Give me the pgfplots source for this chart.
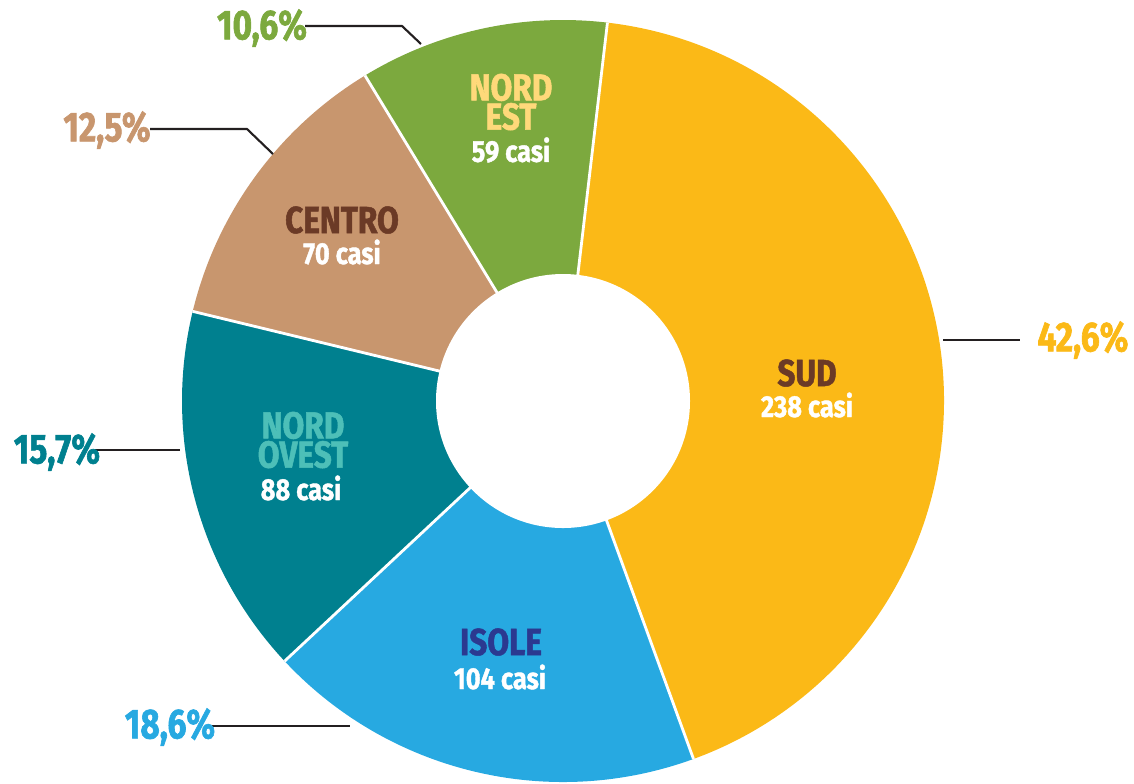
\documentclass[border=0pt]{standalone}
\usepackage{pgfplots}
\pgfplotsset{compat=1.18}
\usepackage{pgfplotstable}
\usepackage{fontspec}
\newfontfamily\cond{Fira Sans}[FakeStretch=0.84, BoldFeatures={FakeBold=1.3}]
\newfontfamily\condp{Fira Sans}[FakeStretch=0.8, BoldFeatures={FakeBold=1.5}]
\definecolor{cSUD}{HTML}{FBB917}
\definecolor{cISO}{HTML}{27A9E1}
\definecolor{cNO}{HTML}{00808F}
\definecolor{cCEN}{HTML}{C8966E}
\definecolor{cNE}{HTML}{7CA93E}
\definecolor{tBrown}{HTML}{6B3A26}
\definecolor{tBlue}{HTML}{2B3990}
\definecolor{tTeal}{HTML}{4DBFB8}
\definecolor{tYel}{HTML}{FFD97A}
\definecolor{lineC}{HTML}{231F20}

\pgfplotstableread{
name count pct col
SUD 238 42.6 cSUD
ISOLE 104 18.6 cISO
NORDOVEST 88 15.7 cNO
CENTRO 70 12.5 cCEN
NORDEST 59 10.6 cNE
}\piedata

\tikzset{
  reg/.style={inner sep=0pt, align=center, font=\cond\bfseries\fontsize{10.7}{8.3}\selectfont},
  cas/.style={inner sep=0pt, text=white, font=\cond\bfseries\fontsize{8.6}{10}\selectfont},
  pct/.style={inner sep=0pt, font=\condp\bfseries\fontsize{11.9}{13}\selectfont},
}

\begin{document}
\begin{tikzpicture}
\begin{axis}[
  width=11.34cm, height=7.83cm, scale only axis,
  xmin=0, xmax=1134, ymin=0, ymax=783,
  hide axis, clip=false,
]
\pgfplotsextra{
  \pgfplotstablegetrowsof{\piedata}
  \pgfmathtruncatemacro{\lastrow}{\pgfplotsretval-1}
  \gdef\total{0}
  \foreach \i in {0,...,\lastrow}{
    \pgfplotstablegetelem{\i}{count}\of\piedata
    \pgfmathsetmacro{\t}{\total+\pgfplotsretval}
    \xdef\total{\t}
  }
  \gdef\curang{83.3}
  \foreach \i in {0,...,\lastrow}{
    \pgfplotstablegetelem{\i}{count}\of\piedata \let\cnt\pgfplotsretval
    \pgfplotstablegetelem{\i}{col}\of\piedata \let\clr\pgfplotsretval
    \pgfmathsetmacro{\endang}{\curang-\cnt/\total*360}
    \fill[fill=\clr] (axis cs:563,382) -- ++(\curang:3.81cm)
      arc[start angle=\curang, end angle=\endang, radius=3.81cm] -- cycle;
    \xdef\curang{\endang}
  }
  \gdef\curang{83.3}
  \foreach \i in {0,...,\lastrow}{
    \pgfplotstablegetelem{\i}{count}\of\piedata \let\cnt\pgfplotsretval
    \draw[white, line width=0.8pt] (axis cs:563,382) -- ++(\curang:3.81cm);
    \pgfmathsetmacro{\endang}{\curang-\cnt/\total*360}
    \xdef\curang{\endang}
  }
  \fill[white] (axis cs:563,382) circle[radius=1.27cm];
}
% region labels
\node[reg, text=tYel] at (axis cs:511,681) {NORD\\EST};
\node[cas] at (axis cs:511,633) {59 casi};
\node[reg, text=tBrown] at (axis cs:342,563) {CENTRO};
\node[cas] at (axis cs:342,531) {70 casi};
\node[reg, text=tTeal] at (axis cs:303,343) {NORD\\OVEST};
\node[cas] at (axis cs:301,295) {88 casi};
\node[reg, text=tBlue] at (axis cs:501,141) {ISOLE};
\node[cas] at (axis cs:500,106) {104 casi};
\node[reg, text=tBrown] at (axis cs:807,410) {SUD};
\node[cas] at (axis cs:807,378) {238 casi};
% leader lines
\draw[lineC, line width=0.6pt] (axis cs:305,757) -- (axis cs:402,757) -- (axis cs:421,739);
\draw[lineC, line width=0.6pt] (axis cs:150,654) -- (axis cs:247,654) -- (axis cs:273,629);
\draw[lineC, line width=0.6pt] (axis cs:95,333) -- (axis cs:180,333);
\draw[lineC, line width=0.6pt] (axis cs:212,57) -- (axis cs:350,57);
\draw[lineC, line width=0.6pt] (axis cs:943,443) -- (axis cs:1020,443);
% percentages
\node[pct, text=cNE] at (axis cs:262,755) {10,6\%};
\node[pct, text=cCEN] at (axis cs:107,653) {12,5\%};
\node[pct, text=cNO] at (axis cs:57,331) {15,7\%};
\node[pct, text=cISO] at (axis cs:170,56) {18,6\%};
\node[pct, text=cSUD] at (axis cs:1083,443) {42,6\%};
\end{axis}
\pgfresetboundingbox
\path (current axis.south west) rectangle (current axis.north east);
\end{tikzpicture}
\end{document}
